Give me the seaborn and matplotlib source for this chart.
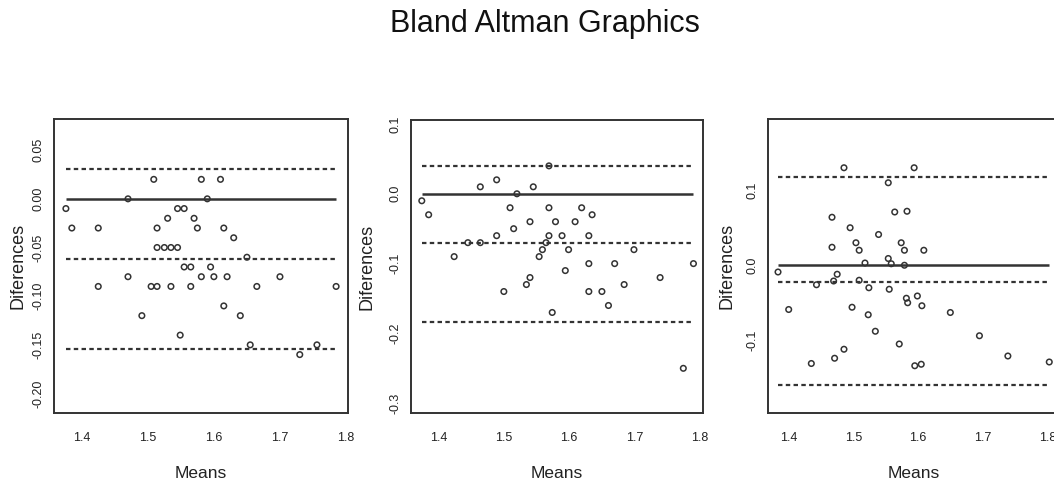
import matplotlib
matplotlib.use("Agg")
import matplotlib.pyplot as plt
from matplotlib import font_manager
import seaborn as sns

# Bland-Altman data (means, differences)
means_1 = [1.376, 1.385, 1.425, 1.425, 1.470, 1.470, 1.491, 1.505, 1.509, 1.514, 1.514,
           1.514, 1.525, 1.530, 1.535, 1.535, 1.545, 1.545, 1.549, 1.555, 1.555, 1.565,
           1.565, 1.570, 1.575, 1.581, 1.581, 1.590, 1.595, 1.600, 1.610, 1.615, 1.615,
           1.620, 1.630, 1.640, 1.650, 1.655, 1.665, 1.700, 1.730, 1.756, 1.785]
diffs_1 = [-0.01, -0.03, -0.03, -0.09, 0.00, -0.08, -0.12, -0.09, 0.02, -0.09, -0.03,
           -0.05, -0.05, -0.02, -0.05, -0.09, -0.05, -0.01, -0.14, -0.01, -0.07, -0.07,
           -0.09, -0.02, -0.03, -0.08, 0.02, 0.00, -0.07, -0.08, 0.02, -0.03, -0.11,
           -0.08, -0.04, -0.12, -0.06, -0.15, -0.09, -0.08, -0.16, -0.15, -0.09]

means_2 = [1.3745, 1.385, 1.424, 1.445, 1.464, 1.464, 1.489, 1.489, 1.500, 1.5095, 1.515,
           1.520, 1.5345, 1.540, 1.540, 1.545, 1.554, 1.559, 1.5645, 1.569, 1.569, 1.569,
           1.574, 1.579, 1.589, 1.594, 1.599, 1.609, 1.619, 1.630, 1.630, 1.630, 1.635,
           1.650, 1.660, 1.6695, 1.684, 1.699, 1.739, 1.7745, 1.790]
diffs_2 = [-0.01, -0.03, -0.09, -0.07, -0.07, 0.01, 0.02, -0.06, -0.14, -0.02, -0.05,
           0.00, -0.13, -0.12, -0.04, 0.01, -0.09, -0.08, -0.07, 0.04, -0.02, -0.06,
           -0.17, -0.04, -0.06, -0.11, -0.08, -0.04, -0.02, -0.06, -0.10, -0.14, -0.03,
           -0.14, -0.16, -0.10, -0.13, -0.08, -0.12, -0.25, -0.10]

means_3 = [1.3835, 1.400, 1.435, 1.443, 1.467, 1.467, 1.4695, 1.471, 1.475, 1.4855, 1.4855,
           1.495, 1.498, 1.504, 1.509, 1.509, 1.518, 1.523, 1.524, 1.534, 1.539, 1.554,
           1.554, 1.5555, 1.5586, 1.564, 1.571, 1.574, 1.579, 1.579, 1.582, 1.583, 1.584,
           1.594, 1.595, 1.599, 1.605, 1.606, 1.609, 1.650, 1.695, 1.739, 1.803]
diffs_3 = [-0.009, -0.059, -0.131, -0.026, 0.064, 0.024, -0.021, -0.124, -0.012, 0.130, -0.112,
           0.050, -0.056, 0.030, 0.020, -0.020, 0.003, -0.066, -0.030, -0.088, 0.041, 0.110,
           0.009, -0.032, 0.002, 0.071, -0.105, 0.030, 0.000, 0.020, -0.044, 0.072, -0.050,
           0.130, -0.134, -0.041, -0.132, -0.054, 0.020, -0.063, -0.094, -0.121, -0.129]

# bias and limits of agreement (dashed lines)
bias = [-0.062, -0.071, -0.022]
upper_loa = [0.031, 0.040, 0.118]
lower_loa = [-0.154, -0.184, -0.160]

y_ticks = [[-0.20, -0.15, -0.10, -0.05, 0.00, 0.05],
           [-0.3, -0.2, -0.1, 0.0, 0.1],
           [-0.1, 0.0, 0.1]]
y_fmt = ["{:.2f}", "{:.1f}", "{:.1f}"]
x_ticks = [1.4, 1.5, 1.6, 1.7, 1.8]

sns.set_style("white")
names = {f.name for f in font_manager.fontManager.ttflist}
narrow = "Liberation Sans Narrow" if "Liberation Sans Narrow" in names else "Liberation Sans"
plt.rcParams["font.family"] = ["Liberation Sans", "DejaVu Sans"]

ink = "#333333"
W, H = 1054, 484
fig = plt.figure(figsize=(W / 100, H / 100), dpi=100)

# axes boxes in pixels: left, top, right, bottom
boxes = [(54, 119, 348, 413), (411, 120, 703, 413), (768, 119, 1060, 413)]
xlims = [(1.358, 1.803), (1.358, 1.8046), (1.368, 1.8196)]
ylims = [(-0.22, 0.082), (-0.314, 0.1057), (-0.197, 0.195)]
ylab_x = [-0.122, -0.151, -0.140]

panels = [(means_1, diffs_1), (means_2, diffs_2), (means_3, diffs_3)]

for i, (m, d) in enumerate(panels):
    l, t, r, b = boxes[i]
    ax = fig.add_axes([l / W, 1 - b / H, (r - l) / W, (b - t) / H])
    sns.scatterplot(x=m, y=d, ax=ax, marker="o", s=16, facecolors="none",
                    edgecolor=ink, linewidth=1.1, zorder=3)
    lo, hi = min(m), max(m)
    ax.hlines(0, lo, hi, color=ink, lw=1.8, zorder=2)
    for yv in (upper_loa[i], bias[i], lower_loa[i]):
        ax.hlines(yv, lo, hi, color=ink, lw=1.6, linestyles=(0, (2.0, 1.5)), zorder=2)

    ax.set_xlim(*xlims[i])
    ax.set_ylim(*ylims[i])
    ax.set_xticks(x_ticks)
    ax.set_xticklabels([f"{v:.1f}" for v in x_ticks], fontfamily=narrow, fontsize=9)
    ax.set_yticks(y_ticks[i])
    ax.set_yticklabels([y_fmt[i].format(v) for v in y_ticks[i]], fontfamily=narrow,
                       fontsize=9, rotation=90, va="center")
    ax.tick_params(axis="both", length=4, width=1.2, color=ink, labelcolor="#222222")
    ax.tick_params(axis="x", pad=10)
    ax.tick_params(axis="y", pad=2.5)
    for sp in ax.spines.values():
        sp.set_color(ink)
        sp.set_linewidth(1.4)

    ax.set_ylabel("Diferences", fontsize=13, color="#222222")
    ax.yaxis.set_label_coords(ylab_x[i], 0.5)
    ax.yaxis.label.set_va("center")
    ax.set_xlabel("Means", fontsize=12.5, color="#222222", fontfamily=narrow)
    ax.xaxis.set_label_coords(0.5, -61 / (b - t))
    ax.xaxis.label.set_va("center")

fig.text(545 / W, 1 - 24 / H, "Bland Altman Graphics", ha="center", va="center",
         fontsize=22, color="#111111")

fig.savefig("out.png", dpi=100)
